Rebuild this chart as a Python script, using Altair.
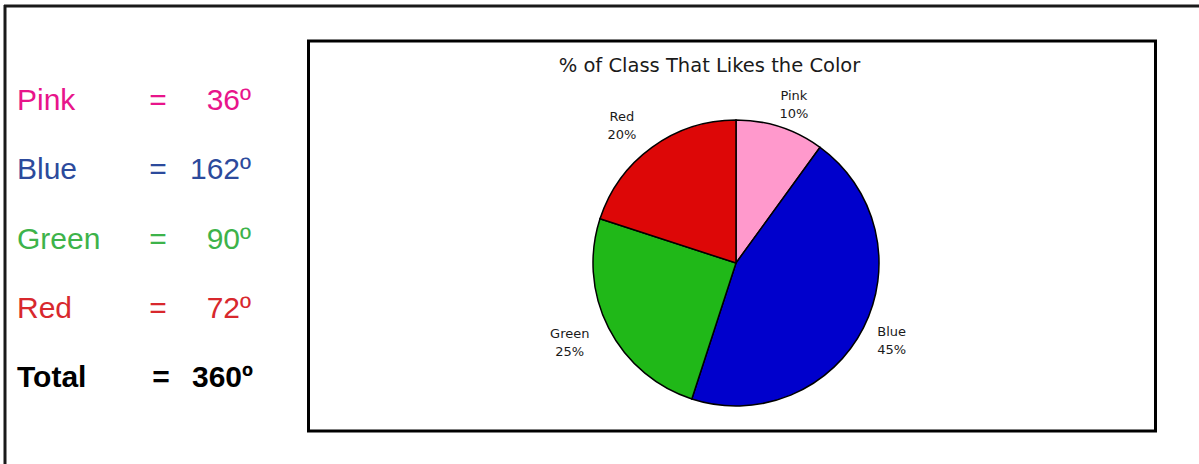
import math
import altair as alt
import pandas as pd

# ---- data ----
rows = ["Pink", "Blue", "Green", "Red", "Total"]
degrees = [36, 162, 90, 72, 360]
row_colors = ["#e8158b", "#2c4a9c", "#3db34a", "#d8282d", "#000000"]

slices = ["Pink", "Blue", "Green", "Red"]
percents = [10, 45, 25, 20]
slice_colors = ["#ff99cc", "#0000cc", "#20b818", "#dd0707"]

title_text = "% of Class That Likes the Color"

left_df = pd.DataFrame({"name": rows, "deg": degrees, "idx": range(len(rows))})
pie_df = pd.DataFrame({"name": slices, "pct": percents, "idx": range(len(slices))})
title_df = pd.DataFrame({"t": [title_text]})
frame_df = pd.DataFrame({"k": [0]})

CX, CY = 736, 263
R = 143

# ---- frames ----
outer_top = alt.Chart(frame_df).mark_rule(color="#1a1a1a", strokeWidth=3).encode(
    x=alt.value(4), x2=alt.value(1199), y=alt.value(6)
)
outer_left = alt.Chart(frame_df).mark_rule(color="#1a1a1a", strokeWidth=3).encode(
    x=alt.value(5), y=alt.value(5), y2=alt.value(464)
)
inner_box = alt.Chart(frame_df).mark_rect(fill="white", stroke="black", strokeWidth=3).encode(
    x=alt.value(308.5), x2=alt.value(1155.5), y=alt.value(41), y2=alt.value(431)
)

# ---- left column ----
yenc = alt.Y("name:N", scale=alt.Scale(type="point", domain=rows, range=[110, 387], padding=0), axis=None)
colenc = alt.Color("name:N", scale=alt.Scale(domain=rows, range=row_colors), legend=None)

base_left = alt.Chart(left_df)
font_left = "Liberation Sans"

names_reg = base_left.transform_filter("datum.name != 'Total'").mark_text(
    font=font_left, fontSize=30, align="left", baseline="alphabetic"
).encode(x=alt.value(17), y=yenc, text="name:N", color=colenc)
eq_reg = base_left.transform_filter("datum.name != 'Total'").mark_text(
    font=font_left, fontSize=30, align="center", baseline="alphabetic"
).encode(x=alt.value(158), y=yenc, text=alt.value("="), color=colenc)
val_reg = base_left.transform_filter("datum.name != 'Total'").transform_calculate(
    vt="datum.deg + 'º'"
).mark_text(font=font_left, fontSize=30, align="right", baseline="alphabetic").encode(
    x=alt.value(251), y=yenc, text="vt:N", color=colenc
)

names_tot = base_left.transform_filter("datum.name == 'Total'").mark_text(
    font=font_left, fontSize=30, fontWeight="bold", align="left", baseline="alphabetic", color="black"
).encode(x=alt.value(17), y=yenc, text="name:N")
eq_tot = base_left.transform_filter("datum.name == 'Total'").mark_text(
    font=font_left, fontSize=30, fontWeight="bold", align="center", baseline="alphabetic", color="black"
).encode(x=alt.value(161), y=yenc, text=alt.value("="))
val_tot = base_left.transform_filter("datum.name == 'Total'").transform_calculate(
    vt="datum.deg + 'º'"
).mark_text(font=font_left, fontSize=30, fontWeight="bold", align="right", baseline="alphabetic", color="black").encode(
    x=alt.value(253), y=yenc, text="vt:N"
)

# ---- pie ----
pie = alt.Chart(pie_df).mark_arc(radius=R, stroke="black", strokeWidth=1.5).encode(
    theta=alt.Theta("pct:Q", stack=True, scale=alt.Scale(domain=[0, 100], range=[0, 2 * math.pi])),
    order=alt.Order("idx:Q"),
    color=alt.Color("name:N", scale=alt.Scale(domain=slices, range=slice_colors), legend=None),
    x=alt.value(CX),
    y=alt.value(CY),
)

lab_base = alt.Chart(pie_df).transform_window(
    cum="sum(pct)", sort=[alt.SortField("idx")], frame=[None, 0]
).transform_calculate(
    mid="datum.cum - datum.pct / 2",
    label="datum.name + '\\n' + datum.pct + '%'",
)

def label_layer(cond, radius, dx, dy):
    return lab_base.transform_filter(cond).mark_text(
        radius=radius, dx=dx, dy=dy, align="center", baseline="middle", lineBreak="\n",
        font="DejaVu Sans", fontSize=13, lineHeight=18, color="#1a1a1a"
    ).encode(
        theta=alt.Theta("mid:Q", stack=None, scale=alt.Scale(domain=[0, 100], range=[0, 2 * math.pi])),
        text="label:N",
        x=alt.value(CX),
        y=alt.value(CY),
    )

labels_right = label_layer("datum.mid < 50", 168, 6, -7)
labels_left = label_layer("datum.mid >= 50", 172, -13, -7)

title = alt.Chart(title_df).mark_text(
    font="DejaVu Sans", fontSize=19.5, align="center", baseline="alphabetic", color="#1a1a1a"
).encode(x=alt.value(709.5), y=alt.value(72), text="t:N")

chart = alt.layer(
    outer_top, outer_left, inner_box,
    names_reg, eq_reg, val_reg, names_tot, eq_tot, val_tot,
    pie, labels_right, labels_left, title,
).resolve_scale(color="independent", theta="independent").properties(
    width=1199, height=464, padding=0, autosize="none", background="white"
).configure_view(strokeWidth=0)

chart.save("out.html", embed_options={"renderer": "svg", "actions": False})
